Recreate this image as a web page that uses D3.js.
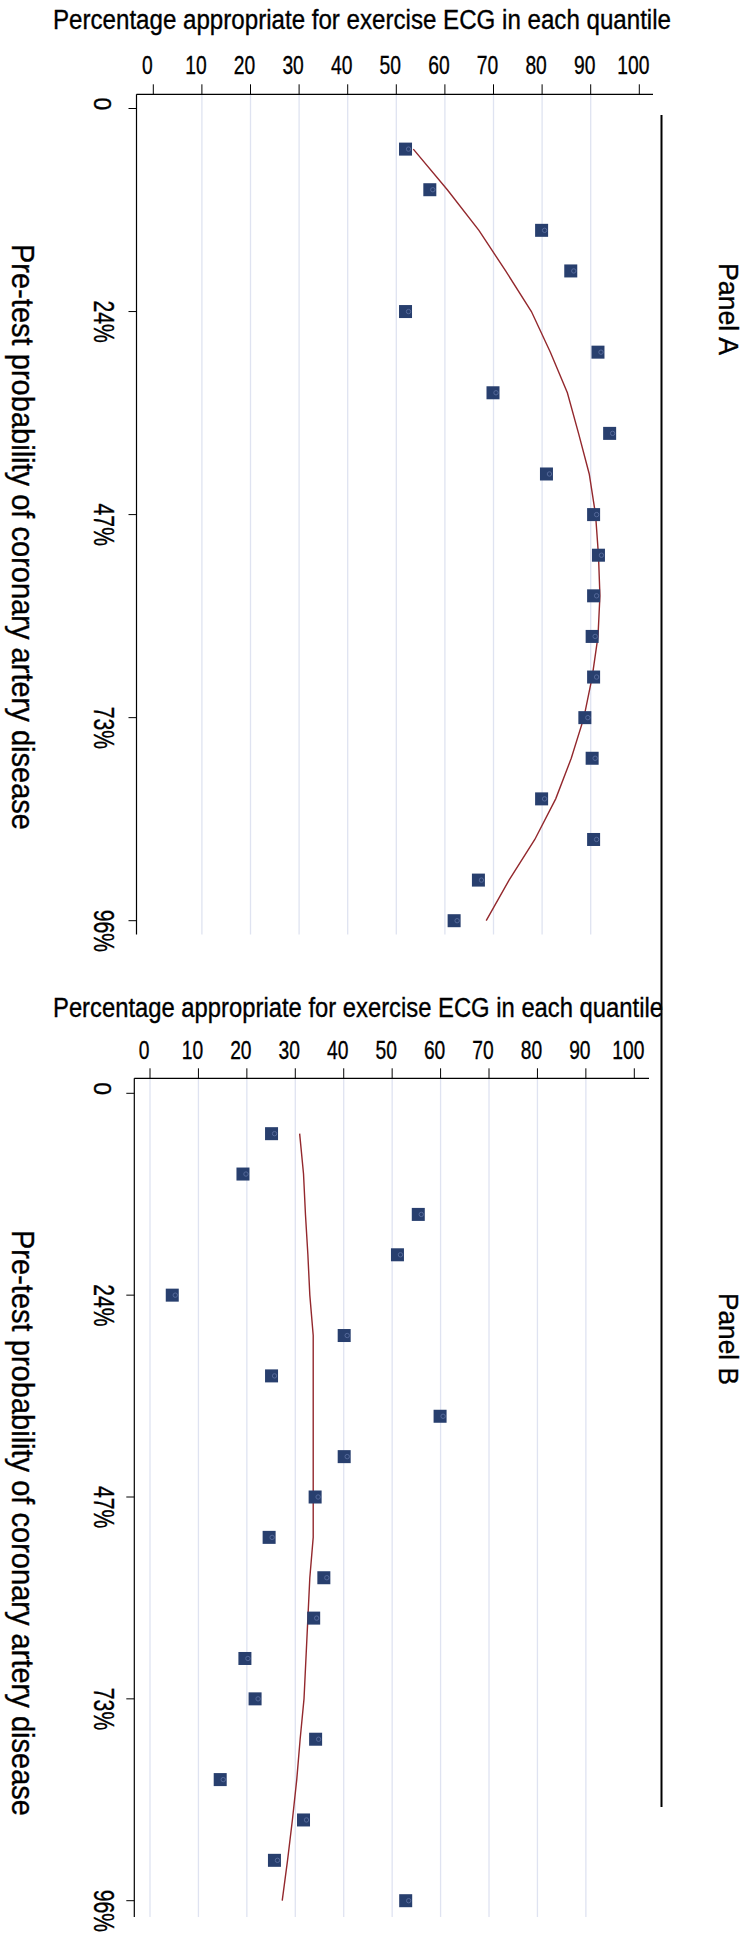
<!DOCTYPE html>
<html>
<head>
<meta charset="utf-8">
<script src="https://cdn.jsdelivr.net/npm/d3@7"></script>
<style>
  body { margin: 0; background: #fff; }
  text { font-family: "Liberation Sans", Arial, sans-serif; fill: #000; stroke: #000; stroke-width: 0.35px; }
</style>
</head>
<body>
<svg id="chart" width="752" height="1934"></svg>
<script>
// quantile position (1..20) and y tick labels
var quantiles = [1, 2, 3, 4, 5, 6, 7, 8, 9, 10, 11, 12, 13, 14, 15, 16, 17, 18, 19, 20];
var yTickPos = [0, 5, 10, 15, 20];
var yTickLabels = ["0", "24%", "47%", "73%", "96%"];
var xTicks = [0, 10, 20, 30, 40, 50, 60, 70, 80, 90, 100];

// Panel A: % appropriate per quantile + smoothed fit
var panelA_pct = [52, 57, 80, 86, 52, 91.6, 70, 94, 81, 90.7, 91.7, 90.7, 90.4, 90.7, 88.9, 90.4, 80, 90.7, 67, 62];
var panelA_fit = [53.5, 60.5, 67, 72.5, 77.8, 81.7, 85.2, 87.5, 89.7, 91, 91.6, 91.9, 91.5, 90.3, 88.6, 86, 82.8, 78.5, 73.2, 68.5];

// Panel B
var panelB_pct = [25.2, 19.3, 55.5, 51.2, 4.7, 40.2, 25.2, 60, 40.2, 34.2, 24.7, 36, 33.9, 19.7, 21.8, 34.3, 14.6, 31.8, 25.8, 52.9];
var panelB_fit = [30.9, 31.7, 32.1, 32.6, 33.0, 33.7, 33.7, 33.7, 33.7, 33.7, 33.7, 33.0, 32.6, 32.2, 31.8, 31.0, 30.3, 29.4, 28.4, 27.3];

var svg = d3.select("#chart");

var ylabText = "Pre-test probability of coronary artery disease";

function drawPanel(p) {
  var x = d3.scaleLinear().domain([0, 100]).range([p.x0, p.x100]);
  var y = d3.scaleLinear().domain([0, 20]).range([p.y0, p.y20]);
  var g = svg.append("g");

  // grid lines
  g.selectAll(".grid")
    .data(xTicks.filter(function(d) { return d >= p.gridFrom && d <= 90; }))
    .enter().append("line")
      .attr("x1", function(d) { return x(d); })
      .attr("x2", function(d) { return x(d); })
      .attr("y1", p.top).attr("y2", p.bottom)
      .attr("stroke", "#dfe3f1").attr("stroke-width", 1.3);

  // frame (top + left)
  g.append("line").attr("x1", p.left).attr("x2", p.right)
    .attr("y1", p.top).attr("y2", p.top).attr("stroke", "#000").attr("stroke-width", 1.2);
  g.append("line").attr("x1", p.left).attr("x2", p.left)
    .attr("y1", p.top).attr("y2", p.bottom).attr("stroke", "#000").attr("stroke-width", 1.2);

  // x ticks + labels
  g.selectAll(".xt").data(xTicks).enter().append("line")
    .attr("x1", function(d) { return x(d); }).attr("x2", function(d) { return x(d); })
    .attr("y1", p.top - 10).attr("y2", p.top).attr("stroke", "#000").attr("stroke-width", 1);
  g.selectAll(".xl").data(xTicks).enter().append("text")
    .attr("x", function(d) { return x(d) - 6; })
    .attr("y", p.tickBase)
    .attr("text-anchor", "middle")
    .style("font-size", "26px")
    .text(function(d) { return d; })
    .each(function() {
      var w = this.getComputedTextLength();
      d3.select(this).attr("textLength", w * 0.74).attr("lengthAdjust", "spacingAndGlyphs");
    });

  // title
  g.append("text").attr("x", 53).attr("y", p.titleBase)
    .style("font-size", "27px")
    .attr("textLength", p.titleLen).attr("lengthAdjust", "spacingAndGlyphs")
    .text(p.title);

  // y ticks + rotated labels (squeezed along reading direction)
  g.selectAll(".yt").data(yTickPos).enter().append("line")
    .attr("x1", p.left - 8).attr("x2", p.left)
    .attr("y1", function(d) { return y(d); }).attr("y2", function(d) { return y(d); })
    .attr("stroke", "#000").attr("stroke-width", 1);
  g.selectAll(".yl").data(yTickPos).enter().append("text")
    .attr("transform", function(d, i) {
      return "translate(94," + (y(d) - 11) + ") rotate(90) scale(" + (i === 0 ? 1 : 0.73) + ",1)";
    })
    .style("font-size", function(d, i) { return i === 0 ? "23px" : "29px"; })
    .text(function(d, i) { return yTickLabels[i]; });

  // axis title (rotated)
  g.append("text")
    .attr("transform", "translate(12," + p.ylabMid + ") rotate(90)")
    .attr("text-anchor", "middle")
    .style("font-size", "31px")
    .attr("textLength", 586).attr("lengthAdjust", "spacingAndGlyphs")
    .text(ylabText);

  // panel label
  g.append("text")
    .attr("transform", "translate(719," + p.panelMid + ") rotate(90)")
    .attr("text-anchor", "middle")
    .style("font-size", "27px")
    .attr("textLength", 92).attr("lengthAdjust", "spacingAndGlyphs")
    .text(p.panel);

  // fitted curve
  var line = d3.line()
    .x(function(d) { return x(d); })
    .y(function(d, i) { return y(quantiles[i]); });
  g.append("path").datum(p.fit)
    .attr("d", line)
    .attr("fill", "none").attr("stroke", "#93282d").attr("stroke-width", 1.4);

  // markers
  var m = g.selectAll(".pt").data(p.pct).enter().append("g")
    .attr("transform", function(d, i) { return "translate(" + x(d) + "," + y(quantiles[i]) + ")"; });
  m.append("rect").attr("x", -7).attr("y", -6.5).attr("width", 13).attr("height", 13)
    .attr("fill", "#283f6e");
  m.append("circle").attr("cx", 2.5).attr("cy", 0).attr("r", 2.2)
    .attr("fill", "none").attr("stroke", "#55699a").attr("stroke-width", 1);
}

drawPanel({
  title: "Percentage appropriate for exercise ECG  in each  quantile", titleBase: 29, titleLen: 618,
  tickBase: 74,
  x0: 153.3, x100: 639.3, y0: 108.5, y20: 920.7,
  left: 136.5, right: 653, top: 94.3, bottom: 934.5, gridFrom: 10,
  ylabMid: 537, panel: "Panel A", panelMid: 309,
  pct: panelA_pct, fit: panelA_fit
});

drawPanel({
  title: "Percentage appropriate for exercise ECG  in each quantile", titleBase: 1017, titleLen: 610,
  tickBase: 1059.3,
  x0: 150, x100: 634.3, y0: 1093.3, y20: 1900.7,
  left: 134.3, right: 649, top: 1078.3, bottom: 1917, gridFrom: 0,
  ylabMid: 1523, panel: "Panel B", panelMid: 1339,
  pct: panelB_pct, fit: panelB_fit
});

// long vertical rule on the right spanning both panels
svg.append("line").attr("x1", 661.5).attr("x2", 661.5)
  .attr("y1", 115).attr("y2", 1807)
  .attr("stroke", "#000").attr("stroke-width", 2);
</script>
</body>
</html>
